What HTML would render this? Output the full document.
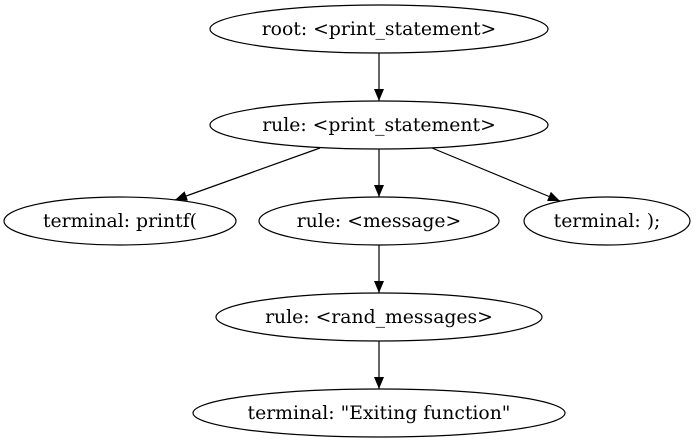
<!DOCTYPE html>
<html><head><meta charset="utf-8"><style>
html,body{margin:0;padding:0;background:#fff;}
svg{display:block;}
text{font-family:"DejaVu Serif",serif;font-size:18.8px;fill:#000;}
</style></head><body>
<svg width="696" height="443" viewBox="0 0 696 443" xmlns="http://www.w3.org/2000/svg">
<defs><marker id="a" markerWidth="12" markerHeight="10" refX="12" refY="5" orient="auto" markerUnits="userSpaceOnUse"><path d="M0,0 L12,5 L0,10 Z" fill="#000"/></marker></defs>
<g fill="none" stroke="#000" stroke-width="1.2">
<ellipse cx="379" cy="29" rx="169" ry="24"/>
<ellipse cx="379" cy="125" rx="169" ry="24"/>
<ellipse cx="120" cy="221" rx="116" ry="24"/>
<ellipse cx="379" cy="221" rx="120" ry="24"/>
<ellipse cx="607" cy="221" rx="83" ry="24"/>
<ellipse cx="379" cy="317" rx="163" ry="24"/>
<ellipse cx="379" cy="413" rx="186" ry="24"/>
<line x1="379" y1="53" x2="379" y2="101" marker-end="url(#a)"/>
<line x1="320" y1="148" x2="175" y2="200" marker-end="url(#a)"/>
<line x1="379" y1="149" x2="379" y2="197" marker-end="url(#a)"/>
<line x1="432" y1="148" x2="560" y2="201" marker-end="url(#a)"/>
<line x1="379" y1="245" x2="379" y2="293" marker-end="url(#a)"/>
<line x1="379" y1="341" x2="379" y2="389" marker-end="url(#a)"/>
</g>
<g text-anchor="middle">
<text x="379" y="35">root: &lt;print_statement&gt;</text>
<text x="379" y="131">rule: &lt;print_statement&gt;</text>
<text x="120" y="227">terminal: printf(</text>
<text x="379" y="227">rule: &lt;message&gt;</text>
<text x="607" y="227">terminal: );</text>
<text x="379" y="323">rule: &lt;rand_messages&gt;</text>
<text x="379" y="419">terminal: "Exiting function"</text>
</g>
</svg>
</body></html>
